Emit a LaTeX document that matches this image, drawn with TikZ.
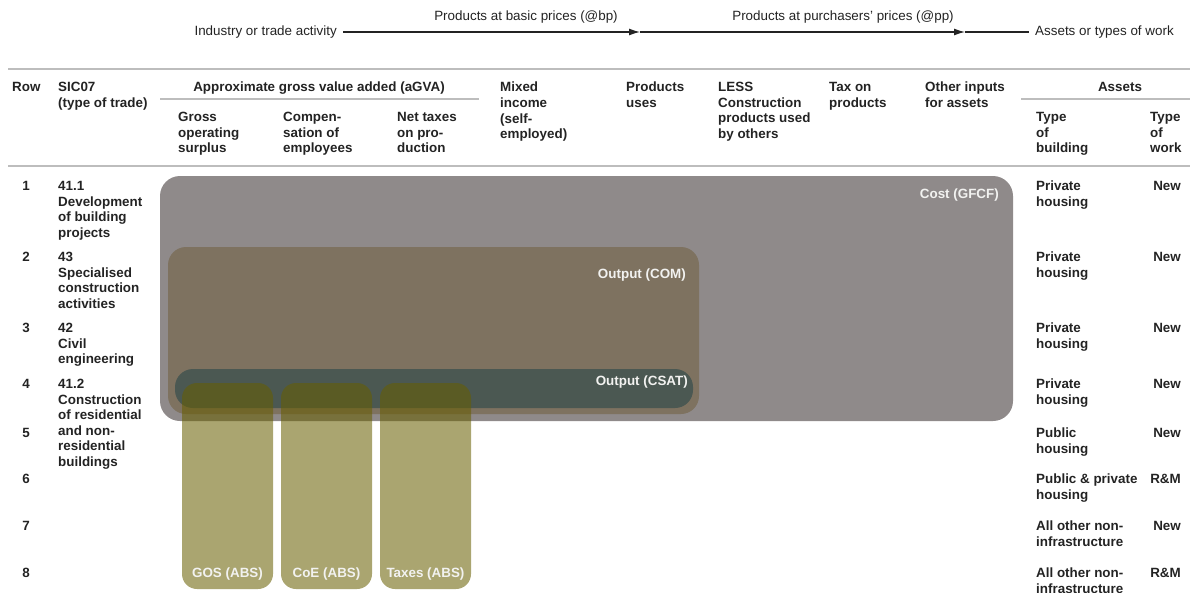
\documentclass[tikz,border=0pt]{standalone}
\usepackage{fontspec}
\setmainfont{Liberation Sans}
\usepackage{tikz}
\usetikzlibrary{arrows.meta}

\definecolor{inkgrey}{HTML}{232323}
\definecolor{rulegrey}{HTML}{BDBDBD}
\definecolor{gfcfgrey}{HTML}{8F8A8A}
\definecolor{combrown}{HTML}{7E7260}
\definecolor{csatslate}{HTML}{4B5852}
\definecolor{absolive}{RGB}{103,94,0}
\definecolor{boxlabel}{HTML}{F2F2F0}

\begin{document}
\begin{tikzpicture}[x=1pt, y=-1pt,
    plain/.style={font=\fontsize{13.4}{15.6}\selectfont, text=inkgrey, inner sep=6pt},
    hd/.style={font=\fontsize{13.4}{15.6}\selectfont\bfseries, text=inkgrey, inner sep=0pt, align=left, anchor=north west},
    rowno/.style={hd, anchor=north},
    work/.style={hd, anchor=north east},
    rule/.style={rulegrey, line width=2.2pt},
    flow/.style={inkgrey, line width=1.2pt, -{Latex[length=11pt, width=7pt]}},
    boxtag/.style={font=\fontsize{13.4}{15.6}\selectfont\bfseries, text=boxlabel, inner sep=0pt},
    absbox/.style={absolive, opacity=0.56, rounded corners=15pt}]

            \useasboundingbox (0, 0) rectangle (1190, 592);

            % price chain along the top
            \node[plain, anchor=east] at (343, 32) (ind) {Industry or trade activity};
            \node[plain, anchor=west] at (1029, 32) (ast) {Assets or types of work};
            \node[plain] at (526, 17) (bp) {Products at basic prices (@bp)};
            \node[plain] at (843, 17) (pp) {Products at purchasers' prices (@pp)};
            \coordinate (bptip) at (640, 32);
            \coordinate (pptip) at (965, 32);
            \draw [flow] (ind.east) -- (bptip);
            \draw [flow] (bptip) -- (pptip);
            \draw [inkgrey, line width=1.2pt] (pptip) -- (ast.west);

            % table rules
            \draw [rule] (8, 69) -- (1190, 69);
            \draw [rule] (160, 99) -- (479, 99);
            \draw [rule] (1021, 99) -- (1190, 99);
            \draw [rule] (8, 166) -- (1190, 166);

            % header
            \node[hd] at (12, 82) (rowhd) {Row};
            \node[hd] at (58, 82) (sichd) {SIC07\\(type of trade)};
            \node[hd, anchor=north] at (319, 82) (agva) {Approximate gross value added (aGVA)};
            \node[hd] at (178, 112) (gos) {Gross\\operating\\surplus};
            \node[hd] at (283, 112) (coe) {Compen-\\sation of\\employees};
            \node[hd] at (397, 112) (ntx) {Net taxes\\on pro-\\duction};
            \node[hd] at (500, 82) (mixed) {Mixed\\income\\(self-\\employed)};
            \node[hd] at (626, 82) (puse) {Products\\uses};
            \node[hd] at (718, 82) (less) {LESS\\Construction\\products used\\by others};
            \node[hd] at (829, 82) (taxp) {Tax on\\products};
            \node[hd] at (925, 82) (other) {Other inputs\\for assets};
            \node[hd, anchor=north] at (1120, 82) (assets) {Assets};
            \node[hd] at (1036, 112) (tob) {Type\\of\\building};
            \node[hd] at (1150, 112) (tow) {Type\\of\\work};

            % coverage boxes
            \fill [gfcfgrey, rounded corners=20pt] (160, 176) rectangle (1013, 421);
            \fill [combrown, rounded corners=18pt] (168, 247) rectangle (699, 414);
            \fill [csatslate, rounded corners=18pt] (175, 369) rectangle (693, 408);
            \fill [absbox] (182, 383) rectangle (273, 589);
            \fill [absbox] (281, 383) rectangle (372, 589);
            \fill [absbox] (380, 383) rectangle (471, 589);

            \node[boxtag, anchor=east] at (999, 195) (gfcf) {Cost (GFCF)};
            \node[boxtag, anchor=east] at (686, 275) (com) {Output (COM)};
            \node[boxtag, anchor=east] at (688, 382) (csat) {Output (CSAT)};
            \node[boxtag] at (227.5, 574) (gosabs) {GOS (ABS)};
            \node[boxtag] at (326.5, 574) (coeabs) {CoE (ABS)};
            \node[boxtag] at (425.5, 574) (taxabs) {Taxes (ABS)};

            % rows
            \node[rowno] at (26, 181) (r1) {1};
            \node[rowno] at (26, 252) (r2) {2};
            \node[rowno] at (26, 323) (r3) {3};
            \node[rowno] at (26, 379) (r4) {4};
            \node[rowno] at (26, 428) (r5) {5};
            \node[rowno] at (26, 474) (r6) {6};
            \node[rowno] at (26, 521) (r7) {7};
            \node[rowno] at (26, 568) (r8) {8};

            \node[hd] at (58, 181) (s1) {41.1\\Development\\of building\\projects};
            \node[hd] at (58, 252) (s2) {43\\Specialised\\construction\\activities};
            \node[hd] at (58, 323) (s3) {42\\Civil\\engineering};
            \node[hd] at (58, 379) (s4) {41.2\\Construction\\of residential\\and non-\\residential\\buildings};

            \node[hd] at (1036, 181) (b1) {Private\\housing};
            \node[hd] at (1036, 252) (b2) {Private\\housing};
            \node[hd] at (1036, 323) (b3) {Private\\housing};
            \node[hd] at (1036, 379) (b4) {Private\\housing};
            \node[hd] at (1036, 428) (b5) {Public\\housing};
            \node[hd] at (1036, 474) (b6) {Public \& private\\housing};
            \node[hd] at (1036, 521) (b7) {All other non-\\infrastructure};
            \node[hd] at (1036, 568) (b8) {All other non-\\infrastructure};

            \node[work] at (1181, 181) (w1) {New};
            \node[work] at (1181, 252) (w2) {New};
            \node[work] at (1181, 323) (w3) {New};
            \node[work] at (1181, 379) (w4) {New};
            \node[work] at (1181, 428) (w5) {New};
            \node[work] at (1181, 474) (w6) {R\&M};
            \node[work] at (1181, 521) (w7) {New};
            \node[work] at (1181, 568) (w8) {R\&M};
        \end{tikzpicture}
\end{document}
